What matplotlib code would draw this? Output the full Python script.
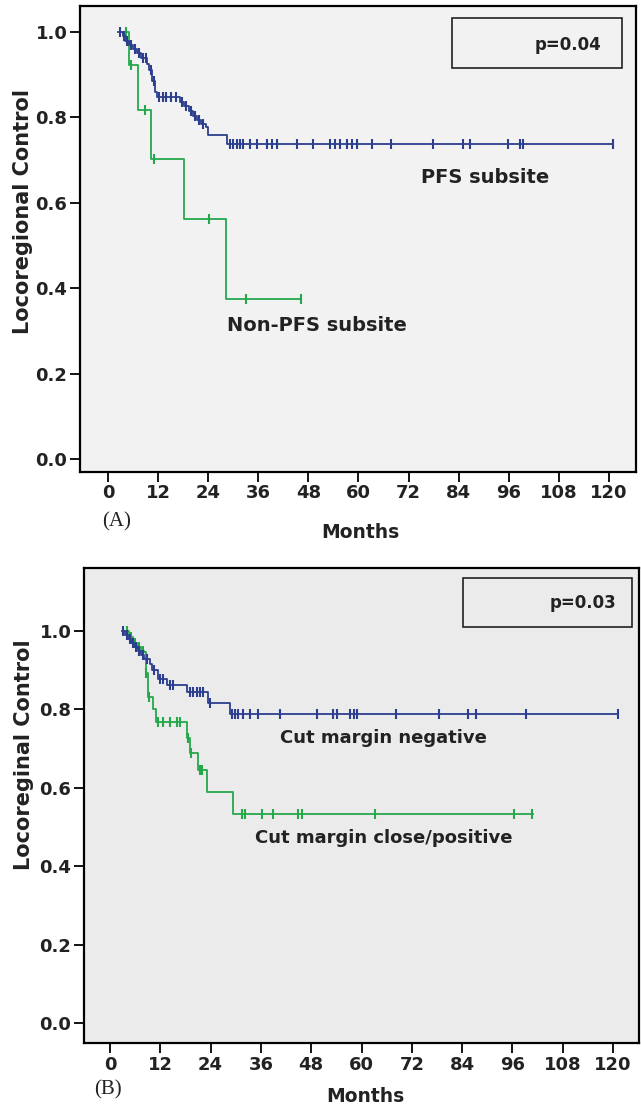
import numpy as np
import matplotlib
matplotlib.use('Agg')
import matplotlib.pyplot as plt
from matplotlib.patches import Rectangle

# Panel A: PFS subsite vs non-PFS subsite
a_pfs_t = [2.5, 3.5, 4.2, 5.0, 6.0, 7.0, 8.0, 9.3, 9.8, 10.5, 11.3, 11.7,
           17.3, 18.3, 19.3, 20.3, 21.3, 22.3, 23.6, 24.0, 28.4, 120.9]
a_pfs_s = [1.0, 0.99, 0.98, 0.97, 0.96, 0.95, 0.94, 0.925, 0.911, 0.885, 0.860, 0.848,
           0.837, 0.826, 0.815, 0.804, 0.793, 0.785, 0.778, 0.759, 0.739, 0.739]
a_pfs_cens = [3.0, 3.8, 4.6, 5.5, 6.5, 7.5, 8.5, 9.0, 10.2, 11.0, 12.3, 13.2, 14.0, 15.0,
              16.2, 17.8, 18.8, 19.8, 20.8, 21.8, 22.8, 29.2, 30.0, 30.8, 31.6, 32.4,
              34.0, 35.6, 38.0, 39.2, 40.4, 45.2, 49.2, 53.2, 54.4, 55.6, 57.2, 58.4,
              59.6, 63.2, 67.9, 77.9, 85.1, 86.7, 95.9, 98.7, 99.5, 120.9]

a_non_t = [4.0, 5.1, 7.3, 10.2, 18.2, 28.2, 46.2]
a_non_s = [1.0, 0.923, 0.817, 0.702, 0.562, 0.376, 0.376]
a_non_cens = [4.3, 5.4, 8.9, 11.0, 24.3, 33.1, 46.2]

# Panel B: cut margin negative vs close/positive
b_neg_t = [2.8, 3.5, 4.2, 5.0, 5.8, 6.6, 7.4, 8.2, 9.5, 10.0, 11.5, 13.5,
           18.3, 23.5, 28.6, 121.3]
b_neg_s = [1.0, 0.99, 0.98, 0.97, 0.96, 0.95, 0.94, 0.93, 0.915, 0.90, 0.879, 0.862,
           0.845, 0.817, 0.788, 0.788]
b_neg_cens = [3.2, 4.0, 4.8, 5.5, 6.2, 7.0, 7.8, 8.8, 10.5, 11.9, 12.6, 14.3, 15.1,
              19.1, 19.9, 20.7, 21.5, 22.3, 23.9, 29.0, 29.8, 30.6, 31.8, 33.4, 35.4,
              40.6, 49.3, 53.3, 54.1, 57.3, 58.1, 58.9, 68.3, 78.4, 85.3, 87.3, 99.3, 121.3]

b_pos_t = [3.6, 4.5, 5.5, 6.5, 7.3, 8.0, 8.5, 9.1, 10.3, 11.0, 18.3, 19.1, 21.1,
           23.1, 29.4, 101.0]
b_pos_s = [1.0, 0.985, 0.97, 0.96, 0.95, 0.947, 0.892, 0.832, 0.80, 0.769, 0.726,
           0.688, 0.645, 0.590, 0.533, 0.533]
b_pos_cens = [4.0, 5.0, 6.0, 7.0, 7.8, 8.7, 9.3, 11.5, 12.7, 14.3, 15.9, 16.7, 18.5,
              19.4, 21.5, 22.0, 31.4, 32.2, 36.2, 39.0, 44.9, 45.7, 63.2, 96.3, 100.7]

xticks = [0, 12, 24, 36, 48, 60, 72, 84, 96, 108, 120]
yticks = [0.0, 0.2, 0.4, 0.6, 0.8, 1.0]

BLUE = '#2c3f8e'
GREEN = '#25a84c'

W, H = 641, 1107
fig = plt.figure(figsize=(W / 100, H / 100), dpi=100)
fig.patch.set_facecolor('white')


def px_rect(left, top, right, bottom):
    return [left / W, 1 - bottom / H, (right - left) / W, (bottom - top) / H]


def km(ax, t, s, cens, color):
    ax.step(t, s, where='post', color=color, lw=1.3)
    idx = np.searchsorted(t, cens, side='right') - 1
    cy = np.array(s)[np.clip(idx, 0, len(s) - 1)]
    ax.plot(cens, cy, ls='none', marker='|', ms=7, mew=1.5, color=color)


def style(ax, face, xlim, ylim):
    ax.set_facecolor(face)
    ax.set_xlim(*xlim)
    ax.set_ylim(*ylim)
    ax.set_xticks(xticks)
    ax.set_yticks(yticks)
    ax.set_yticklabels([f'{v:.1f}' for v in yticks])
    for sp in ax.spines.values():
        sp.set_linewidth(1.6)
    ax.tick_params(direction='out', length=7, width=1.3, labelsize=13, pad=2)
    for lab in ax.get_xticklabels() + ax.get_yticklabels():
        lab.set_fontweight('bold')
        lab.set_color('#222222')


def pbox(ax, left, top, right, bottom, text, tx, ty):
    fig.patches.append(Rectangle((left / W, 1 - bottom / H), (right - left) / W,
                                 (bottom - top) / H, transform=fig.transFigure,
                                 fill=False, lw=1.2, ec='#222222', zorder=5))
    fig.text(tx / W, 1 - ty / H, text, ha='right', va='center', fontsize=12,
             fontweight='bold', color='#222222')


# ---- panel A ----
ax1 = fig.add_axes(px_rect(80, 6, 636, 472))
style(ax1, '#f2f2f2', (-6.7, 126.5), (-0.030, 1.061))
km(ax1, a_non_t, a_non_s, a_non_cens, GREEN)
km(ax1, a_pfs_t, a_pfs_s, a_pfs_cens, BLUE)
ax1.text(90.3, 0.66, 'PFS subsite', ha='center', va='center', fontsize=14,
         fontweight='bold', color='#222222')
ax1.text(50.0, 0.314, 'Non-PFS subsite', ha='center', va='center', fontsize=14,
         fontweight='bold', color='#222222')
pbox(ax1, 452, 18, 622, 68, 'p=0.04', 601, 45)
fig.text(23 / W, 1 - 212 / H, 'Locoregional Control', rotation=90, ha='center',
         va='center', fontsize=15, fontweight='bold', color='#222222')
fig.text(360 / W, 1 - 533 / H, 'Months', ha='center', va='center', fontsize=13.5,
         fontweight='bold', color='#222222')
fig.text(117 / W, 1 - 522 / H, '(A)', ha='center', va='center', fontsize=15,
         family='Liberation Serif', color='#222222')

# ---- panel B ----
ax2 = fig.add_axes(px_rect(84, 568, 639, 1043))
style(ax2, '#ebebeb', (-6.2, 126.2), (-0.051, 1.161))
km(ax2, b_pos_t, b_pos_s, b_pos_cens, GREEN)
km(ax2, b_neg_t, b_neg_s, b_neg_cens, BLUE)
ax2.text(65.2, 0.727, 'Cut margin negative', ha='center', va='center', fontsize=13,
         fontweight='bold', color='#222222')
ax2.text(65.3, 0.472, 'Cut margin close/positive', ha='center', va='center',
         fontsize=13, fontweight='bold', color='#222222')
pbox(ax2, 463, 578, 632, 627, 'p=0.03', 616, 603)
fig.text(24 / W, 1 - 755 / H, 'Locoreginal Control', rotation=90, ha='center',
         va='center', fontsize=15, fontweight='bold', color='#222222')
fig.text(365 / W, 1 - 1097 / H, 'Months', ha='center', va='center', fontsize=13.5,
         fontweight='bold', color='#222222')
fig.text(108 / W, 1 - 1090 / H, '(B)', ha='center', va='center', fontsize=15,
         family='Liberation Serif', color='#222222')

fig.savefig('out.png', dpi=100)
